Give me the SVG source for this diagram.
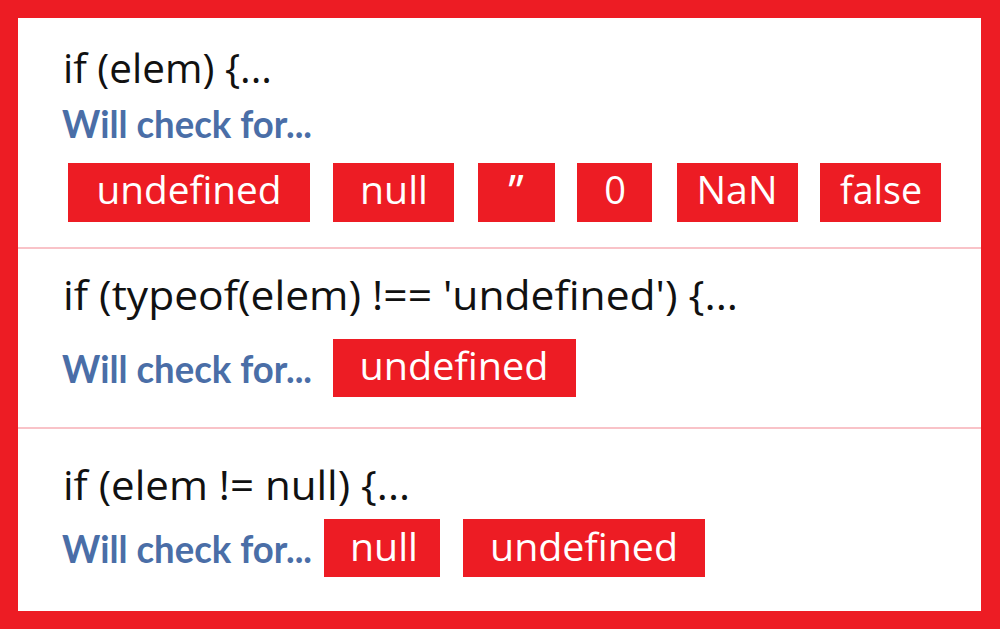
<svg xmlns="http://www.w3.org/2000/svg" width="1000" height="629" viewBox="0 0 1000 629">
<style>
.code{font-family:"Open Sans","Noto Sans","Liberation Sans",sans-serif;font-size:41px;fill:#111;}
.will{font-family:"Lato","Noto Sans","Liberation Sans",sans-serif;font-size:38px;font-weight:bold;fill:#4a6ea7;}
.box{fill:#ed1c24;}
.val{font-family:"Open Sans","Noto Sans","Liberation Sans",sans-serif;font-size:38px;fill:#fff;text-anchor:middle;}
.sep{stroke:#f38892;stroke-width:1.2;}
</style>
<rect x="0" y="0" width="1000" height="629" fill="#ed1c24"/>
<rect x="18" y="18" width="963" height="593" fill="#fff"/>
<g id="connectors">
<line class="sep" x1="18" y1="248" x2="981" y2="248"/>
<line class="sep" x1="18" y1="428" x2="981" y2="428"/>
</g>
<g id="section1">
<text class="code" x="63" y="83" textLength="209" lengthAdjust="spacingAndGlyphs">if (elem) {...</text>
<text class="will" x="62" y="138" textLength="250" lengthAdjust="spacingAndGlyphs">Will check for...</text>
<g id="s1-undefined"><rect class="box" x="68" y="163" width="242" height="59"/><text class="val" x="189" y="204" textLength="185" lengthAdjust="spacingAndGlyphs">undefined</text></g>
<g id="s1-null"><rect class="box" x="333" y="163" width="121" height="59"/><text class="val" x="394" y="204" textLength="68" lengthAdjust="spacingAndGlyphs">null</text></g>
<g id="s1-empty"><rect class="box" x="478" y="163" width="77" height="59"/><text class="val" x="516" y="208" style="font-size:46px">’’</text></g>
<g id="s1-zero"><rect class="box" x="577" y="163" width="75" height="59"/><text class="val" x="615" y="204">0</text></g>
<g id="s1-nan"><rect class="box" x="677" y="163" width="121" height="59"/><text class="val" x="737" y="204" textLength="81" lengthAdjust="spacingAndGlyphs">NaN</text></g>
<g id="s1-false"><rect class="box" x="820" y="163" width="121" height="59"/><text class="val" x="881" y="204" textLength="82" lengthAdjust="spacingAndGlyphs">false</text></g>
</g>
<g id="section2">
<text class="code" x="63" y="310" textLength="675" lengthAdjust="spacingAndGlyphs">if (typeof(elem) !== 'undefined') {...</text>
<text class="will" x="62" y="383" textLength="250" lengthAdjust="spacingAndGlyphs">Will check for...</text>
<g id="s2-undefined"><rect class="box" x="333" y="339" width="243" height="58"/><text class="val" x="454" y="380" textLength="189" lengthAdjust="spacingAndGlyphs">undefined</text></g>
</g>
<g id="section3">
<text class="code" x="63" y="500" textLength="347" lengthAdjust="spacingAndGlyphs">if (elem != null) {...</text>
<text class="will" x="62" y="563" textLength="250" lengthAdjust="spacingAndGlyphs">Will check for...</text>
<g id="s3-null"><rect class="box" x="324" y="519" width="116" height="58"/><text class="val" x="384" y="561" textLength="68" lengthAdjust="spacingAndGlyphs">null</text></g>
<g id="s3-undefined"><rect class="box" x="463" y="519" width="242" height="58"/><text class="val" x="584" y="561" textLength="188" lengthAdjust="spacingAndGlyphs">undefined</text></g>
</g>
</svg>
